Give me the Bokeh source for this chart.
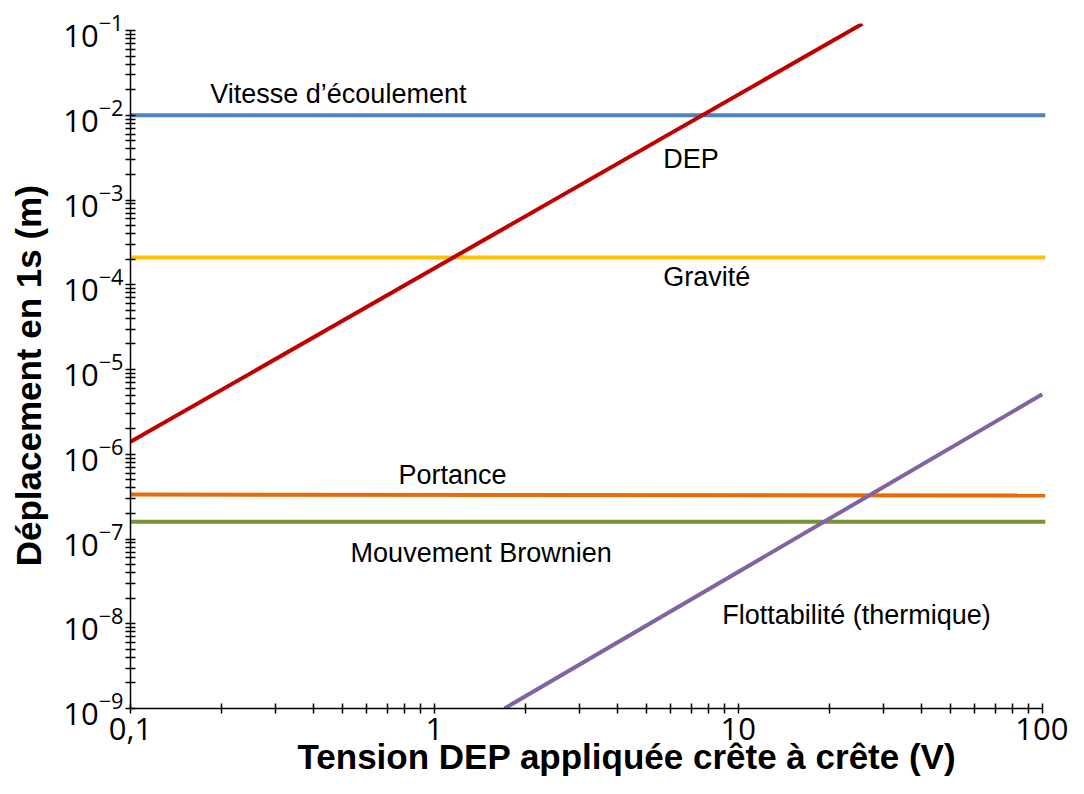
from bokeh.plotting import figure
from bokeh.models import FixedTicker, LogTickFormatter, CustomJSTickFormatter
from bokeh.core.properties import value
from bokeh.embed import file_html
from bokeh.resources import INLINE

# ---- data ----
x_ticks = [0.1, 1, 10, 100]
y_ticks = [1e-9, 1e-8, 1e-7, 1e-6, 1e-5, 1e-4, 1e-3, 1e-2, 1e-1]

flow_x = [0.1, 102.5]
flow_y = [1e-2, 1e-2]

grav_x = [0.1, 102.5]
grav_y = [2.1e-4, 2.1e-4]

dep_x = [0.1, 25.6]
dep_y = [1.4e-6, 0.12]

lift_x = [0.1, 102.5]
lift_y = [3.35e-7, 3.25e-7]

brown_x = [0.1, 102.5]
brown_y = [1.6e-7, 1.6e-7]

buoy_x = [1.7, 100]
buoy_y = [1e-9, 5.1e-6]

label_text = ["Vitesse d\u2019\u00e9coulement", "DEP", "Gravit\u00e9", "Portance",
              "Mouvement Brownien", "Flottabilit\u00e9 (thermique)"]
label_x = [0.183, 5.66, 5.66, 0.762, 0.53, 8.85]
label_y = [0.0176, 3.08e-3, 1.25e-4, 5.63e-7, 6.75e-8, 1.28e-8]

x_title = "Tension DEP appliqu\u00e9e cr\u00eate \u00e0 cr\u00eate (V)"
y_title = "D\u00e9placement en 1s (m)"

# minor ticks
x_minor = [m * d for d in [0.1, 1, 10] for m in range(2, 10)]
y_minor = [m * d for d in y_ticks[:-1] for m in range(2, 10)]

p = figure(width=1068, height=778, x_axis_type="log", y_axis_type="log",
           x_range=(0.1, 102.5), y_range=(1e-9, 0.121),
           output_backend="svg", toolbar_location=None,
           min_border_left=130, min_border_right=23, min_border_top=23,
           min_border_bottom=70)
p.outline_line_color = None
p.grid.visible = False
p.background_fill_color = "white"
p.border_fill_color = "white"

lw = 4
p.line(flow_x, flow_y, line_color="#4F81BD", line_width=lw)
p.line(grav_x, grav_y, line_color="#FFC000", line_width=lw)
p.line(dep_x, dep_y, line_color="#C00000", line_width=lw)
p.line(lift_x, lift_y, line_color="#E46C0A", line_width=lw)
p.line(brown_x, brown_y, line_color="#77933C", line_width=lw)
p.line(buoy_x, buoy_y, line_color="#8064A2", line_width=lw)

p.text(x=label_x, y=label_y, text=label_text, text_font=value("Liberation Sans"),
       text_font_size="27px", text_baseline="alphabetic", text_align="left",
       text_color="black")

for ax in (p.xaxis[0], p.yaxis[0]):
    ax.axis_line_color = "black"
    ax.axis_line_width = 1.5
    ax.major_tick_line_width = 1.5
    ax.minor_tick_line_width = 1.5
    ax.major_tick_line_color = "black"
    ax.minor_tick_line_color = "black"
    ax.major_tick_in = 5
    ax.major_tick_out = 5
    ax.minor_tick_in = 5
    ax.minor_tick_out = 5
    ax.major_label_text_font = "Open Sans"
    ax.major_label_text_font_size = "31px"
    ax.major_label_text_color = "black"
    ax.axis_label_text_font = "Liberation Sans"
    ax.axis_label_text_font_style = "bold"
    ax.axis_label_text_font_size = "35px"
    ax.axis_label_text_color = "black"

# non-breaking spaces shift the centred titles to where the reference has them
p.xaxis.ticker = FixedTicker(ticks=x_ticks, minor_ticks=x_minor)
p.xaxis.formatter = CustomJSTickFormatter(code="return tick < 0.5 ? '0,1' : tick.toFixed(0);")
p.xaxis.bounds = (0.1, 100)
p.xaxis.axis_label = "\u00a0" * 8 + x_title
p.xaxis.major_label_standoff = 4
p.xaxis.axis_label_standoff = -6

p.yaxis.ticker = FixedTicker(ticks=y_ticks, minor_ticks=y_minor)
p.yaxis.formatter = LogTickFormatter()
p.yaxis.bounds = (1e-9, 0.1)
p.yaxis.axis_label = y_title + "\u00a0" * 2
p.yaxis.major_label_standoff = 2
p.yaxis.axis_label_standoff = 12

open("out.html", "w").write(file_html(p, INLINE))
